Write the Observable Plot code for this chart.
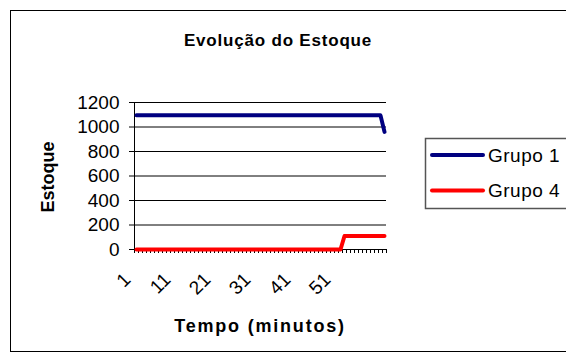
<!DOCTYPE html>
<html>
<head>
<meta charset="utf-8">
<script src="https://cdn.jsdelivr.net/npm/d3@7"></script>
<script src="https://cdn.jsdelivr.net/npm/@observablehq/plot@0.6"></script>
<style>
  html, body { margin: 0; padding: 0; background: #fff; }
  #chart { width: 566px; height: 358px; overflow: hidden; }
  svg { font-family: "Liberation Sans", Arial, sans-serif; }
</style>
</head>
<body>
<div id="chart"></div>
<script>
const title = "Evolução do Estoque";
const xTitle = "Tempo (minutos)";
const yTitle = "Estoque";
const seriesNames = ["Grupo 1", "Grupo 4"];
const seriesColors = ["#000080", "#FF0000"];

const minutes = [1,2,3,4,5,6,7,8,9,10,11,12,13,14,15,16,17,18,19,20,21,22,23,24,25,26,27,28,29,30,31,32,33,34,35,36,37,38,39,40,41,42,43,44,45,46,47,48,49,50,51,52,53,54,55,56,57,58,59,60,61,62,63];
const grupo1 = [1095,1095,1095,1095,1095,1095,1095,1095,1095,1095,1095,1095,1095,1095,1095,1095,1095,1095,1095,1095,1095,1095,1095,1095,1095,1095,1095,1095,1095,1095,1095,1095,1095,1095,1095,1095,1095,1095,1095,1095,1095,1095,1095,1095,1095,1095,1095,1095,1095,1095,1095,1095,1095,1095,1095,1095,1095,1095,1095,1095,1095,1095,960];
const grupo4 = [0,0,0,0,0,0,0,0,0,0,0,0,0,0,0,0,0,0,0,0,0,0,0,0,0,0,0,0,0,0,0,0,0,0,0,0,0,0,0,0,0,0,0,0,0,0,0,0,0,0,0,0,110,110,110,110,110,110,110,110,110,110,110];
const xLabelTicks = [1, 11, 21, 31, 41, 51];
const yTicks = [0, 200, 400, 600, 800, 1000, 1200];

const rows = [];
minutes.forEach((m, i) => {
  rows.push({minuto: m, valor: grupo1[i], serie: seriesNames[0]});
  rows.push({minuto: m, valor: grupo4[i], serie: seriesNames[1]});
});
const boundaries = [minutes[0] - 0.5, ...minutes.map(m => m + 0.5)];

const W = 566, H = 358;
const plot = Plot.plot({
  width: W,
  height: H,
  marginLeft: 134,
  marginRight: 180,
  marginTop: 102,
  marginBottom: 109,
  style: {fontFamily: "Liberation Sans, Arial, sans-serif", fontSize: "18px", background: "#fff", color: "#000"},
  x: {domain: [minutes[0] - 0.5, minutes[minutes.length - 1] + 0.5]},
  y: {domain: [0, 1200]},
  color: {domain: seriesNames, range: seriesColors},
  marks: [
    Plot.gridY({ticks: yTicks, stroke: "#000", strokeOpacity: 1}),
    Plot.axisY({ticks: yTicks, tickSize: 5, tickPadding: 10, tickFormat: d3.format("d"), label: null, fontSize: 19}),
    Plot.axisX({ticks: boundaries, tickSize: 4, tickFormat: () => "", label: null}),
    Plot.axisX({ticks: xLabelTicks, tickSize: 0, tickRotate: -45, tickPadding: 27, dx: -9, label: null, fontSize: 19}),
    Plot.ruleY([0], {stroke: "#000"}),
    Plot.ruleX([minutes[0] - 0.5], {stroke: "#000"}),
    Plot.line(rows, {x: "minuto", y: "valor", z: "serie", stroke: "serie", strokeWidth: 4, strokeLinejoin: "round", strokeLinecap: "round"})
  ]
});
document.getElementById("chart").appendChild(plot);

const svg = d3.select(plot);
// outer chart border
svg.append("rect").attr("x", 10.5).attr("y", 10.5).attr("width", 600).attr("height", 341)
  .attr("fill", "none").attr("stroke", "#000");
// title
svg.append("text").attr("x", 278).attr("y", 46).attr("text-anchor", "middle")
  .attr("font-size", 17).attr("font-weight", "bold").attr("letter-spacing", 0.8).text(title);
// x title
svg.append("text").attr("x", 260).attr("y", 332).attr("text-anchor", "middle")
  .attr("font-size", 18).attr("font-weight", "bold").attr("letter-spacing", 1.8).text(xTitle);
// y title
svg.append("text").attr("transform", "translate(54,177) rotate(-90)").attr("text-anchor", "middle")
  .attr("font-size", 18).attr("font-weight", "bold").text(yTitle);
// legend
const lg = svg.append("g");
lg.append("rect").attr("x", 425.5).attr("y", 138.5).attr("width", 200).attr("height", 70)
  .attr("fill", "#fff").attr("stroke", "#555").attr("stroke-width", 1.5);
seriesNames.forEach((name, i) => {
  const y = 155 + i * 35.5;
  lg.append("line").attr("x1", 432).attr("x2", 483).attr("y1", y).attr("y2", y)
    .attr("stroke", seriesColors[i]).attr("stroke-width", 4).attr("stroke-linecap", "round");
  lg.append("text").attr("x", 488).attr("y", y + 6.5).attr("text-anchor", "start")
    .attr("font-size", 19).attr("letter-spacing", 0.5).text(name);
});
</script>
</body>
</html>
